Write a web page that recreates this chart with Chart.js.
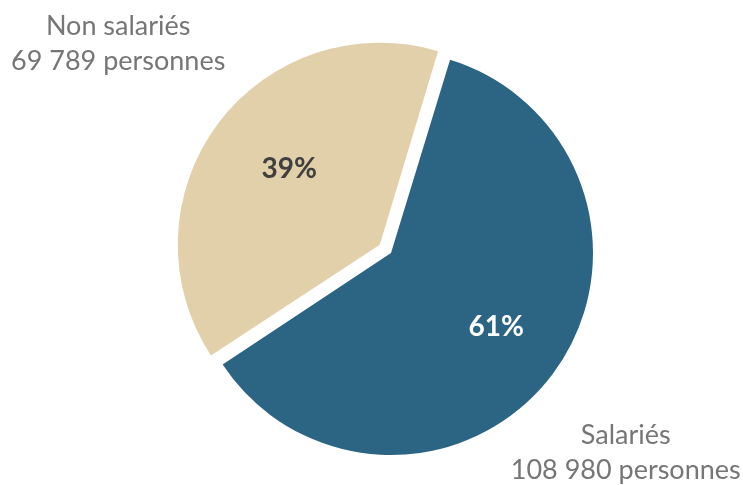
<!DOCTYPE html>
<html>
<head>
<meta charset="utf-8">
<script src="https://cdn.jsdelivr.net/npm/chart.js@4.4.1/dist/chart.umd.min.js"></script>
<style>
  html, body { margin: 0; padding: 0; background: #fff; }
  #wrap { width: 743px; height: 485px; }
</style>
</head>
<body>
<div id="wrap"><canvas id="pie" width="743" height="485"></canvas></div>
<script>
const categories = ['Salariés', 'Non salariés'];
const personnes = [108980, 69789];
const pourcentages = ['61%', '39%'];
const effectifs = ['108 980 personnes', '69 789 personnes'];
const couleurs = ['#2c6484', '#e1d0a9'];

// placement des étiquettes (facteurs du rayon, en x et en y)
const insideFx = [0.65, 0.56];
const insideFy = [0.61, 0.625];
const outsideFx = [1.45, 1.685];
const outsideFy = [1.65, 1.73];
const pctColors = ['#ffffff', '#404040'];

// Chart.js agrandit un peu le rayon d'un arc décalé : on le ramène au rayon commun
const keepRadius = {
  id: 'keepRadius',
  beforeDatasetsDraw(chart) {
    const meta = chart.getDatasetMeta(0);
    const base = meta.controller.outerRadius;
    meta.data.forEach(arc => {
      const off = (arc.options.offset || 0) / 4;
      const fix = 1 - Math.sin(Math.min(Math.PI, arc.circumference || 0));
      arc.outerRadius = base - off * fix;
    });
  }
};

const sliceLabels = {
  id: 'sliceLabels',
  afterDatasetsDraw(chart) {
    const ctx = chart.ctx;
    const meta = chart.getDatasetMeta(0);
    const r = meta.controller.outerRadius;
    meta.data.forEach((arc, i) => {
      const mid = (arc.startAngle + arc.endAngle) / 2;
      // l'arc est décalé de offset / 4 par Chart.js
      const off = (arc.options.offset || 0) / 4;
      const cx = arc.x + Math.cos(mid) * off;
      const cy = arc.y + Math.sin(mid) * off;
      ctx.save();
      ctx.textAlign = 'center';
      ctx.textBaseline = 'middle';
      ctx.font = 'bold 28px Lato';
      ctx.fillStyle = pctColors[i];
      ctx.fillText(pourcentages[i], cx + Math.cos(mid) * r * insideFx[i], cy + Math.sin(mid) * r * insideFy[i]);
      ctx.font = '27px Lato';
      ctx.fillStyle = '#767676';
      const ox = arc.x + Math.cos(mid) * r * outsideFx[i];
      const oy = arc.y + Math.sin(mid) * r * outsideFy[i];
      ctx.fillText(categories[i], ox, oy - 17.5);
      ctx.fillText(effectifs[i], ox, oy + 17.5);
      ctx.restore();
    });
  }
};

new Chart(document.getElementById('pie'), {
  type: 'pie',
  data: {
    labels: categories,
    datasets: [{
      data: personnes,
      backgroundColor: couleurs,
      borderWidth: 0,
      offset: [0, 56],
      hoverOffset: 0
    }]
  },
  options: {
    responsive: false,
    animation: false,
    rotation: 17,
    radius: 202,
    layout: { padding: { left: 39, right: 0, top: 21, bottom: 0 } },
    plugins: {
      legend: { display: false },
      tooltip: { enabled: false }
    }
  },
  plugins: [keepRadius, sliceLabels]
});
</script>
</body>
</html>
